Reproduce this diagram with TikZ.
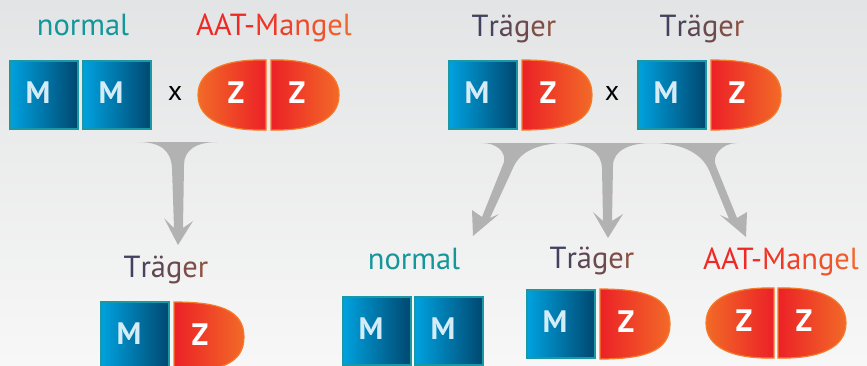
\documentclass[tikz,border=0pt]{standalone}
\usepackage{fontspec}
\setmainfont{PT Sans}

% palette
\definecolor{bgtop}{HTML}{E3E4E5}
\definecolor{bgbot}{HTML}{F7F7F7}
\definecolor{mL}{HTML}{00A2DF}
\definecolor{mR}{HTML}{004870}
\definecolor{medge}{HTML}{1B98A6}
\definecolor{mtext}{HTML}{D5ECF7}
\definecolor{zred}{HTML}{EC2127}
\definecolor{zorange}{HTML}{F26A27}
\definecolor{zedge}{HTML}{F47B2A}
\definecolor{arrowgray}{HTML}{B2B2B2}
\definecolor{normalc}{HTML}{13979A}
\definecolor{aatA}{HTML}{EE2A26}
\definecolor{aatB}{HTML}{F2682C}
\definecolor{trA}{HTML}{41405E}
\definecolor{trB}{HTML}{8C5243}

% labels with a colour run across the letters
\newcommand\traeger{{\color{trA}T}{\color{trA!85!trB}r}{\color{trA!62!trB}ä}{\color{trA!42!trB}g}{\color{trA!20!trB}e}{\color{trB}r}}
\newcommand\aatmangel{{\color{aatA}AAT-}{\color{aatA!80!aatB}M}{\color{aatA!65!aatB}a}{\color{aatA!50!aatB}n}{\color{aatA!35!aatB}g}{\color{aatA!18!aatB}e}{\color{aatB}l}}

\tikzset{
  lab/.style={font=\fontsize{30.5}{32}\selectfont, inner sep=0pt, anchor=base},
  cross/.style={font=\fontsize{28}{29}\selectfont, inner sep=0pt, anchor=base, text=black},
  letter/.style={font=\bfseries\fontsize{31}{31}\selectfont, inner sep=0pt, anchor=base},
  mlet/.style={letter, text=mtext},
  zlet/.style={letter, text=white},
  mtile/.style={draw=medge, line width=1.5pt, left color=mL, right color=mR,
                minimum width=68pt, minimum height=68pt, inner sep=0pt},
  zshape/.style={draw=zedge, line width=1.2pt},
  flow/.style={fill=arrowgray},
}

% M tile: name, left x, top y
\newcommand\Mtile[3]{%
  \node[mtile] (#1) at (#2+34.75,#3+34.75) {};
  \node[mlet] (#1-l) at (#2+29,#3+43) {M};}
% Z half rounded on the left: name, flat (right) x, top y
\newcommand\ZroundL[3]{%
  \path[zshape, left color=zorange, right color=zred]
    (#2,#3) -- (#2,#3+70) .. controls (#2-41,#3+71) and (#2-68,#3+60) .. (#2-68,#3+35)
    .. controls (#2-68,#3+10) and (#2-41,#3-1) .. (#2,#3) -- cycle;
  \node[zlet] (#1) at (#2-30,#3+43) {Z};}
% Z half rounded on the right: name, flat (left) x, top y
\newcommand\ZroundR[3]{%
  \path[zshape, left color=zred, right color=zorange]
    (#2,#3) .. controls (#2+41,#3-1) and (#2+68,#3+10) .. (#2+68,#3+35)
    .. controls (#2+68,#3+60) and (#2+41,#3+71) .. (#2,#3+70) -- cycle;
  \node[zlet] (#1) at (#2+26,#3+43) {Z};}
% Z as a D shape: name, flat (left) x, top y
\newcommand\Zdee[3]{%
  \path[zshape, left color=zred, right color=zorange]
    (#2,#3) .. controls (#2+45,#3) and (#2+70,#3+8) .. (#2+70,#3+35)
    .. controls (#2+70,#3+62) and (#2+45,#3+70) .. (#2,#3+70) -- cycle;
  \node[zlet] (#1) at (#2+26,#3+43) {Z};}

\begin{document}
\begin{tikzpicture}[x=1pt,y=-1pt]
  \useasboundingbox (0,0) rectangle (867,365);
  \clip (0,0) rectangle (867,365);
  \shade[top color=bgtop, bottom color=bgbot] (0,0) rectangle (867,365);

  % parents, left cross
  \node[lab, text=normalc] (n1) at (83,35) {normal};
  \node[lab] (a1) at (274,35) {\aatmangel};
  \Mtile{m1}{9}{60}
  \Mtile{m2}{82}{60}
  \node[cross] (x1) at (175,100) {x};
  \ZroundL{z1}{266}{60}
  \ZroundR{z2}{271}{60}

  % parents, right cross
  \node[lab] (t1) at (514,36) {\traeger};
  \node[lab] (t2) at (702,36) {\traeger};
  \Mtile{m3}{448}{60}
  \Zdee{z3}{522}{60}
  \node[cross] (x2) at (612,100) {x};
  \Mtile{m4}{637}{60}
  \Zdee{z4}{711}{60}

  % flared arrows
  \coordinate (tipA) at (178,245);
  \coordinate (tipB) at (473,236);
  \coordinate (tipC) at (608,238);
  \coordinate (tipD) at (746,237);
  \fill[flow] (138,142) -- (218,142) .. controls (196,142) and (184,150) .. (184,165)
    -- (183,228) -- (193,221) -- (tipA) -- (164,218) -- (174,228) -- (172,168)
    .. controls (171,150) and (160,142) .. (138,142) -- cycle;
  \fill[flow] (482,143) -- (560,143) .. controls (535,145) and (520,152) .. (513,168)
    -- (490,218) -- (499,214) -- (tipB) -- (472,210) -- (482,217) -- (504,162)
    .. controls (506,152) and (497,143) .. (482,143) -- cycle;
  \fill[flow] (560,143) -- (652,143) .. controls (630,143) and (613,150) .. (613,166)
    -- (612,221) -- (623,214) -- (tipC) -- (593,212) -- (603,221) -- (602,168)
    .. controls (601,152) and (590,144) .. (560,143) -- cycle;
  \fill[flow] (652,143) -- (737,143) .. controls (722,143) and (711,156) .. (716,166)
    -- (737,218) -- (747,212) -- (tipD) -- (720,215) -- (729,219) -- (709,170)
    .. controls (702,155) and (685,143) .. (652,143) -- cycle;

  % offspring, left cross
  \node[lab] (t3) at (166,277) {\traeger};
  \Mtile{m5}{100}{301}
  \Zdee{z5}{174}{302}

  % offspring, right cross
  \node[lab, text=normalc] (n2) at (414,269) {normal};
  \Mtile{m6}{342}{296}
  \Mtile{m7}{414}{296}
  \node[lab] (t4) at (592,268) {\traeger};
  \Mtile{m8}{526}{289}
  \Zdee{z6}{600}{289}
  \node[lab] (a2) at (781,269) {\aatmangel};
  \ZroundL{z7}{774}{288}
  \ZroundR{z8}{778}{288}
\end{tikzpicture}
\end{document}
